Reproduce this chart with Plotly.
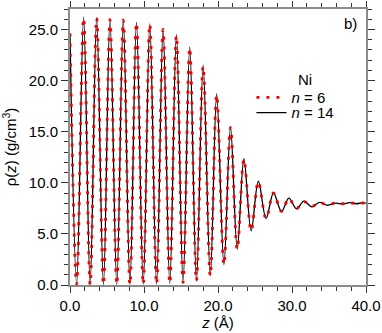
import plotly.graph_objects as go

# extrema (peaks / minima) of the density profiles
z_n14 = [0.0, 0.9, 1.84, 2.72, 3.6, 4.52, 5.4, 6.32, 7.2, 8.1, 8.98, 9.9, 10.78, 11.7,
         12.58, 13.48, 14.38, 15.28, 16.18, 17.09, 17.99, 18.96, 19.82, 20.8, 21.69,
         22.6, 23.5, 24.48, 25.45, 26.5, 27.5, 28.58, 29.58, 30.6, 31.62, 32.68, 33.7,
         34.78, 35.9, 36.8, 37.8, 38.7, 39.5, 40.0]
rho_n14 = [24.6, 0.08, 26.2, 0.05, 26.15, 0.05, 26.0, 0.05, 25.95, 0.05, 25.7, 0.08,
           25.55, 0.1, 25.1, 0.17, 24.5, 0.26, 23.3, 0.4, 21.5, 0.9, 18.7, 2.0, 15.45,
           3.5, 12.35, 5.3, 10.15, 6.5, 9.0, 7.2, 8.5, 7.45, 8.2, 7.65, 8.08, 7.8, 8.0,
           7.92, 8.05, 7.95, 8.04, 8.0]

z_n6 = [0.0, 0.9, 1.84, 2.72, 3.6, 4.52, 5.4, 6.32, 7.2, 8.1, 8.98, 9.9, 10.78, 11.7,
        12.58, 13.48, 14.38, 15.28, 16.18, 17.09, 17.99, 18.96, 19.82, 20.8, 21.69,
        22.6, 23.5, 24.48, 25.45, 26.5, 27.5, 28.58, 29.58, 30.6, 31.62, 32.68, 33.7,
        34.78, 35.9, 36.8, 37.8, 38.7, 39.5, 40.0]
rho_n6 = [24.6, 0.08, 26.1, 0.05, 26.1, 0.05, 25.95, 0.05, 25.9, 0.05, 25.65, 0.08,
          25.5, 0.1, 25.0, 0.17, 24.4, 0.26, 23.2, 0.4, 21.4, 0.9, 18.6, 2.0, 15.4,
          3.5, 12.3, 5.3, 10.1, 6.5, 9.0, 7.2, 8.45, 7.5, 8.15, 7.7, 8.05, 7.85, 8.02,
          7.95, 8.03, 7.97, 8.02, 8.0]

x_ticks = [0, 10, 20, 30, 40]
x_labels = ["0.0", "10.0", "20.0", "30.0", "40.0"]
y_ticks = [0, 5, 10, 15, 20, 25]
y_labels = ["0.0", "5.0", "10.0", "15.0", "20.0", "25.0"]

FONT = "Liberation Sans, Arial, sans-serif"

fig = go.Figure()
fig.add_trace(go.Scatter(x=z_n14, y=rho_n14, mode="lines", name="<i>n</i> = 14",
                         legend="legend2",
                         line=dict(color="black", width=1.3, shape="spline", smoothing=1.0)))
fig.add_trace(go.Scatter(x=z_n6, y=rho_n6, mode="lines", name="<i>n</i> = 6",
                         legend="legend",
                         line=dict(color="#f00000", width=2.8, dash="3px,7px",
                                   shape="spline", smoothing=1.0)))

axis_common = dict(showline=True, linecolor="#8c8c8c", linewidth=2, mirror="allticks",
                   ticks="outside", tickcolor="#333", tickwidth=1, showgrid=False,
                   zeroline=False, automargin=False,
                   tickfont=dict(size=15, color="black", family=FONT))

fig.update_xaxes(range=[0, 40], tickvals=x_ticks, ticktext=x_labels, ticklen=6,
                 minor=dict(dtick=2, ticklen=4, ticks="outside", tickcolor="#333"),
                 title=dict(text="<i>z</i> (Å)", font=dict(size=15, family=FONT), standoff=2),
                 **axis_common)
fig.update_yaxes(range=[0, 27], tickvals=y_ticks, ticktext=y_labels, ticklen=7,
                 minor=dict(dtick=1, ticklen=4, ticks="outside", tickcolor="#333"),
                 title=dict(text="ρ(<i>z</i>) (g/cm<sup>3</sup>)", font=dict(size=15, family=FONT),
                            standoff=9),
                 **axis_common)

fig.add_annotation(x=0.7635, y=0.743, xref="paper", yref="paper", text="Ni",
                   showarrow=False, xanchor="left", yanchor="middle",
                   font=dict(size=15, family=FONT, color="black"))
fig.add_annotation(x=0.946, y=0.946, xref="paper", yref="paper", text="b)",
                   showarrow=False, xanchor="center", yanchor="middle",
                   font=dict(size=15, family=FONT, color="black"))

leg_common = dict(xanchor="left", yanchor="middle", bgcolor="rgba(0,0,0,0)",
                  font=dict(size=15, family=FONT), itemwidth=30)

fig.update_layout(
    width=382, height=333,
    margin=dict(l=70, r=16, t=9, b=48),
    paper_bgcolor="white", plot_bgcolor="white",
    font=dict(family=FONT, color="black"),
    legend=dict(x=0.613, y=0.679, **leg_common),
    legend2=dict(x=0.613, y=0.624, **leg_common),
    showlegend=True,
)

fig.write_html("out.html", config={"displayModeBar": False},
               post_script="document.body.style.margin='0';document.body.style.overflow='hidden';")
